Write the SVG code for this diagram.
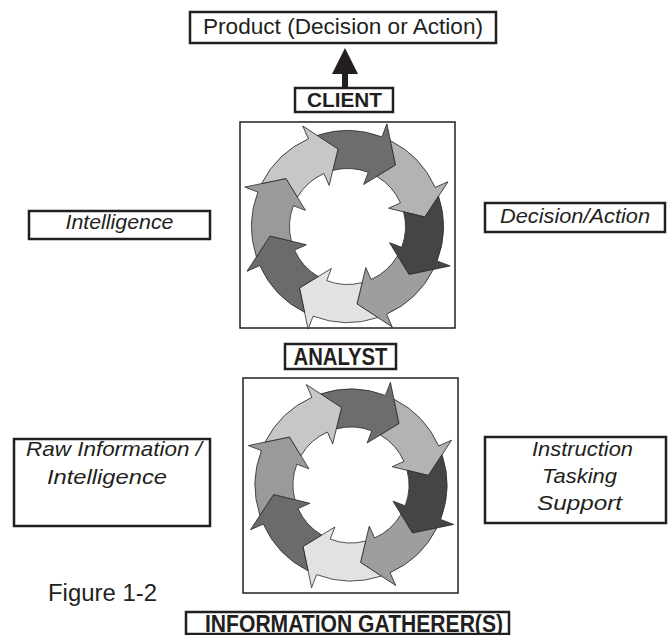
<svg xmlns="http://www.w3.org/2000/svg" xmlns:xlink="http://www.w3.org/1999/xlink" width="669" height="635" viewBox="0 0 669 635">
<style>
.box{fill:#fff;stroke:#231f20;stroke-width:2.5}
.frame{fill:#fff;stroke:#231f20;stroke-width:1.5}
.seg{stroke:#2a2a2a;stroke-width:0.8;stroke-linejoin:miter}
.t{font-family:"Liberation Sans",Arial,sans-serif;fill:#231f20;text-anchor:middle}
.it{font-style:italic}
.b{font-weight:bold}
</style>
<defs>
<path id="arr" class="seg" d="M -30.35 -91.07 A 96 96 0 0 1 34.40 -89.62 L 39.42 -102.69 L 48.02 -61.47 L 16.13 -42.01 L 20.79 -54.15 A 58 58 0 0 0 -14.66 -56.12 L -9.51 -77.42 Z"/>
<g id="cycle">
<use xlink:href="#arr" href="#arr" fill="#6d6d6f"/>
<use xlink:href="#arr" href="#arr" fill="#b3b3b3" transform="rotate(45)"/>
<use xlink:href="#arr" href="#arr" fill="#454547" transform="rotate(90)"/>
<use xlink:href="#arr" href="#arr" fill="#9e9e9e" transform="rotate(135)"/>
<use xlink:href="#arr" href="#arr" fill="#e2e2e2" transform="rotate(180)"/>
<use xlink:href="#arr" href="#arr" fill="#6b6b6b" transform="rotate(225)"/>
<use xlink:href="#arr" href="#arr" fill="#9a9a9a" transform="rotate(270)"/>
<use xlink:href="#arr" href="#arr" fill="#c7c7c7" transform="rotate(315)"/>
</g>
</defs>

<g id="product">
<rect class="box" x="190" y="12" width="306" height="31"/>
<text class="t" x="343" y="34" font-size="22" textLength="280" lengthAdjust="spacingAndGlyphs">Product (Decision or Action)</text>
</g>

<g id="connectors">
<rect x="342" y="72" width="6" height="17" fill="#231f20"/>
<polygon points="332,74 358,74 345,48" fill="#231f20"/>
</g>

<g id="client">
<rect class="box" x="295" y="88" width="98" height="24"/>
<text class="t b" x="344.5" y="106.5" font-size="21" textLength="75" lengthAdjust="spacingAndGlyphs">CLIENT</text>
</g>

<g id="analyst-cycle">
<rect class="frame" x="240" y="122" width="215" height="206"/>
<use xlink:href="#cycle" href="#cycle" transform="translate(347.5,226.5)"/>
</g>

<g id="intelligence">
<rect class="box" x="29" y="211" width="181" height="28"/>
<text class="t it" x="119.5" y="229" font-size="20" textLength="108" lengthAdjust="spacingAndGlyphs">Intelligence</text>
</g>

<g id="decision-action">
<rect class="box" x="485" y="203" width="180" height="29"/>
<text class="t it" x="575" y="223" font-size="20" textLength="150" lengthAdjust="spacingAndGlyphs">Decision/Action</text>
</g>

<g id="analyst">
<rect class="box" x="285" y="344" width="111" height="25"/>
<text class="t b" x="340.5" y="365" font-size="23" textLength="94" lengthAdjust="spacingAndGlyphs">ANALYST</text>
</g>

<g id="gatherer-cycle">
<rect class="frame" x="243" y="378" width="215" height="215"/>
<use xlink:href="#cycle" href="#cycle" transform="translate(351,485)"/>
</g>

<g id="raw-information">
<rect class="box" x="14" y="439" width="196" height="87"/>
<text class="t it" x="114" y="456" font-size="21" textLength="176" lengthAdjust="spacingAndGlyphs">Raw Information /</text>
<text class="t it" x="107" y="484" font-size="21" textLength="120" lengthAdjust="spacingAndGlyphs">Intelligence</text>
</g>

<g id="instruction">
<rect class="box" x="485" y="437" width="181" height="86"/>
<text class="t it" x="582.5" y="456" font-size="21" textLength="101" lengthAdjust="spacingAndGlyphs">Instruction</text>
<text class="t it" x="579.5" y="483" font-size="21" textLength="75" lengthAdjust="spacingAndGlyphs">Tasking</text>
<text class="t it" x="579.5" y="510" font-size="21" textLength="85" lengthAdjust="spacingAndGlyphs">Support</text>
</g>

<g id="figure-label">
<text x="48" y="601" font-family="'Liberation Sans',Arial,sans-serif" font-size="23" fill="#231f20" textLength="109" lengthAdjust="spacingAndGlyphs">Figure 1-2</text>
</g>

<g id="information-gatherers">
<rect class="box" x="186" y="612" width="323" height="22"/>
<text class="t b" x="354" y="631.5" font-size="23" textLength="298" lengthAdjust="spacingAndGlyphs">INFORMATION GATHERER(S)</text>
</g>
</svg>
